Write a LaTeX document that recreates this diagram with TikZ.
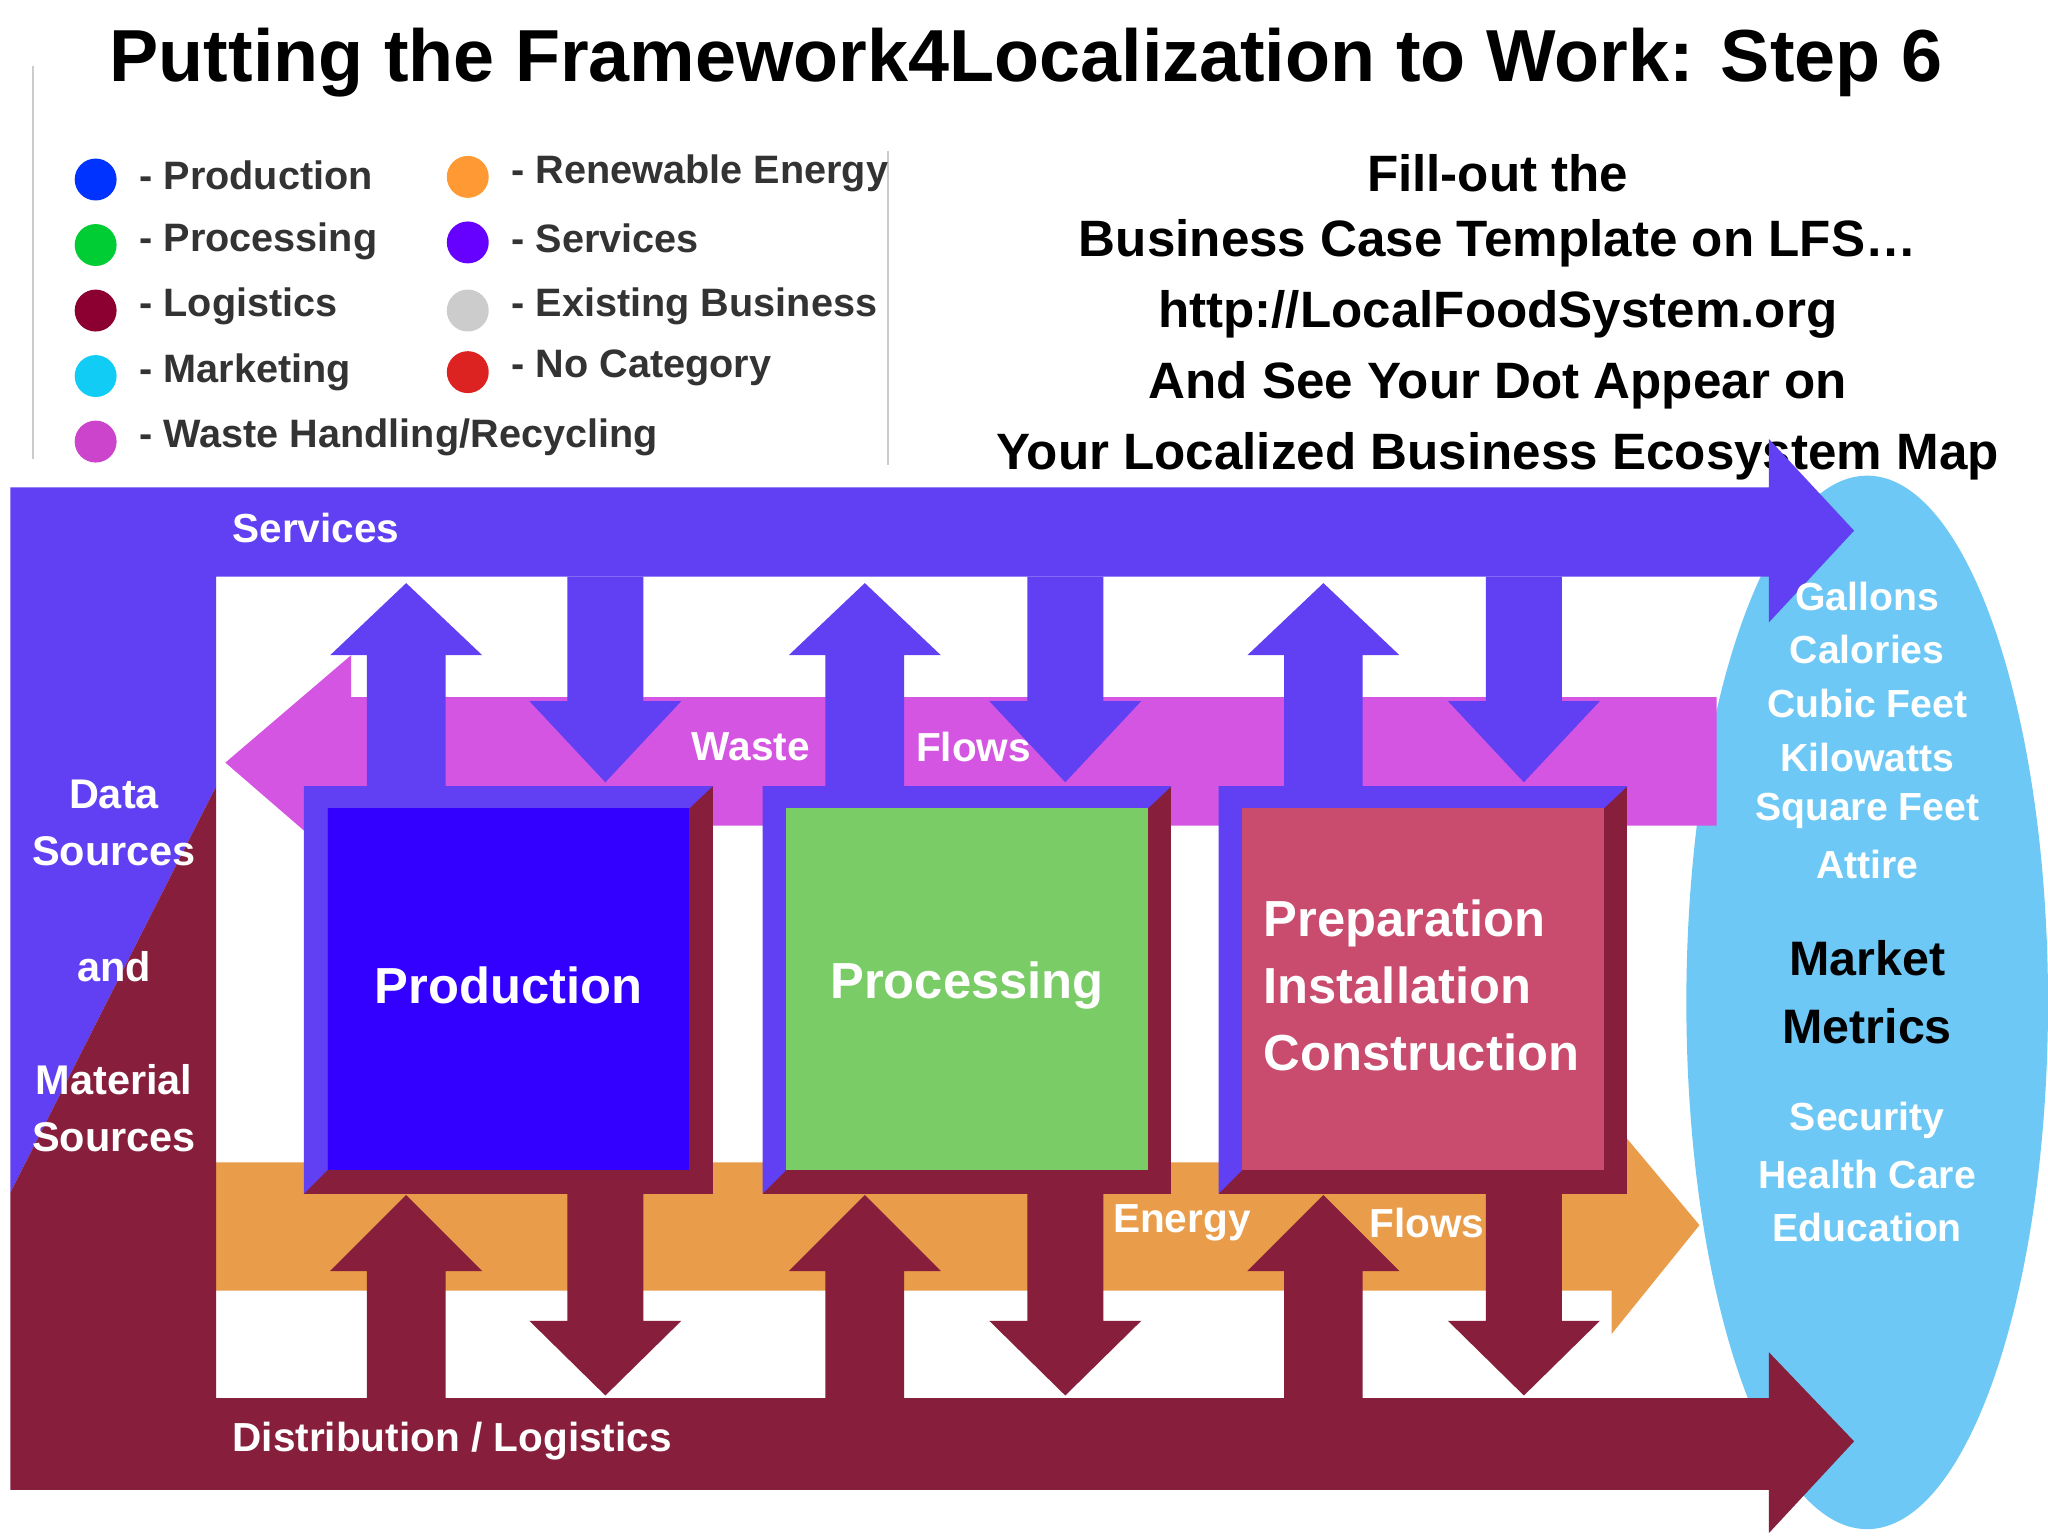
\documentclass[tikz,border=0pt]{standalone}
\usepackage{fontspec}
\setmainfont{Liberation Sans}
\begin{document}
\begin{tikzpicture}[x=0.01cm,y=-0.01cm,
  lbl/.style={font=\bfseries\fontsize{8.8}{10}\selectfont,text=white},
  leg/.style={font=\bfseries\fontsize{8.6}{10}\selectfont,text=black!80,anchor=west},
  rt/.style={font=\bfseries\fontsize{11.1}{12}\selectfont},
  boxt/.style={font=\bfseries\fontsize{11}{14.5}\selectfont,text=white,align=left},
  el/.style={font=\bfseries\fontsize{8.5}{10}\selectfont,text=white}]
\definecolor{serv}{HTML}{6040F2}
\definecolor{dist}{HTML}{861E3C}
\definecolor{waste}{HTML}{D455E2}
\definecolor{energy}{HTML}{E99C4A}
\definecolor{sky}{HTML}{6EC8F5}
\definecolor{prodc}{HTML}{3300FF}
\definecolor{procc}{HTML}{7ACC66}
\definecolor{prepc}{HTML}{C94B6D}
\useasboundingbox (0,0) rectangle (1563,1172);
\fill[white] (0,0) rectangle (1563,1172);
% title
\node[font=\bfseries\fontsize{16}{18}\selectfont] (title) at (783,48) {Putting the Framework4Localization to Work: Step 6};
% legend
\draw[gray!40] (25,50) -- (25,350);
\draw[gray!40] (678,115) -- (678,355);
\foreach \c/\y/\t/\n in {0033FF/137/Production/a,00CC33/187/Processing/b,8B0030/237/Logistics/c,11CCF5/287/Marketing/d,CC44CC/337/{Waste Handling/Recycling}/e}{
  \definecolor{tmp}{HTML}{\c}
  \fill[tmp] (73,\y) circle (16);
  \node[leg] (l\n) at (94,\y-3) {- \t};}
\foreach \c/\y/\t/\n in {FF9933/135/Renewable Energy/f,6600FF/185/Services/g,CCCCCC/237/Existing Business/h,DD2222/284/No Category/i}{
  \definecolor{tmp}{HTML}{\c}
  \fill[tmp] (357,\y) circle (16);
  \node[leg] (l\n) at (378,\y-3) {- \t};}
% right text
\node[rt] (r1) at (1143,132) {Fill-out the};
\node[rt] (r2) at (1143,186) {Business Case Template on LFS…};
\node[rt] (r3) at (1143,240) {http://LocalFoodSystem.org};
\node[rt] (r4) at (1143,294) {And See Your Dot Appear on};
\node[rt] (r5) at (1143,348) {Your Localized Business Ecosystem Map};
% ellipse
\fill[sky] (1425,765) ellipse (138 and 402);
% waste and energy
\fill[waste] (172,582) -- (268,500) -- (268,532) -- (1310,532) -- (1310,630) -- (268,630) -- (268,665) -- cycle;
\fill[energy] (165,887) -- (1230,887) -- (1230,855) -- (1297,935) -- (1230,1018) -- (1230,985) -- (165,985) -- cycle;
% services / distribution
\fill[serv] (8,372) -- (1350,372) -- (1350,335) -- (1415,405) -- (1350,475) -- (1350,440) -- (165,440) -- (165,600) -- (8,910) -- cycle;
\fill[dist] (165,600) -- (165,1067) -- (1350,1067) -- (1350,1032) -- (1415,1100) -- (1350,1170) -- (1350,1137) -- (8,1137) -- (8,910) -- cycle;
% vertical arrows
\foreach \x in {310,660,1010}{
  \fill[serv] (\x-30,600) -- (\x-30,500) -- (\x-58,500) -- (\x,445) -- (\x+58,500) -- (\x+30,500) -- (\x+30,600) -- cycle;
  \fill[dist] (\x-30,1067) -- (\x-30,970) -- (\x-58,970) -- (\x,912) -- (\x+58,970) -- (\x+30,970) -- (\x+30,1067) -- cycle;}
\foreach \x in {462,813,1163}{
  \fill[serv] (\x-29,440) -- (\x-29,535) -- (\x-58,535) -- (\x,597) -- (\x+58,535) -- (\x+29,535) -- (\x+29,440) -- cycle;
  \fill[dist] (\x-29,905) -- (\x-29,1008) -- (\x-58,1008) -- (\x,1065) -- (\x+58,1008) -- (\x+29,1008) -- (\x+29,905) -- cycle;}
% boxes
\foreach \x/\c/\n in {232/prodc/p,582/procc/q,930/prepc/s}{
  \fill[dist] (\x,600) rectangle (\x+312,911);
  \fill[serv] (\x,600) -- (\x+312,600) -- (\x+294,617) -- (\x+18,617) -- (\x+18,893) -- (\x,911) -- cycle;
  \fill[\c] (\x+18,617) rectangle (\x+294,893);}
\node[boxt] (bp) at (388,752) {Production};
\node[boxt] (bq) at (738,752) {Processing};
\node[boxt,anchor=west] (bs) at (952,752) {Preparation\\Installation\\Construction};
% labels
\node[lbl,anchor=west] (sv) at (165,403) {Services};
\node[lbl,anchor=west] (ds) at (165,1100) {Distribution / Logistics};
\node[lbl] (w1) at (573,570) {Waste};
\node[lbl] (w2) at (743,570) {Flows};
\node[lbl] (e1) at (902,933) {Energy};
\node[lbl] (e2) at (1089,933) {Flows};
\node[lbl,align=center,font=\bfseries\fontsize{9}{12.4}\selectfont] (d1) at (87,628) {Data\\Sources};
\node[lbl,font=\bfseries\fontsize{9}{12}\selectfont] (d2) at (87,738) {and};
\node[lbl,align=center,font=\bfseries\fontsize{9}{12.4}\selectfont] (d3) at (87,846) {Material\\Sources};
% ellipse text
\foreach \t/\y/\n in {Gallons/455/a,Calories/496/b,Cubic Feet/537/c,Kilowatts/578/d,Square Feet/619/e,Attire/660/f,Security/855/g,Health Care/896/h,Education/937/i}{
  \node[el] (m\n) at (1425,\y) {\t};}
\node[font=\bfseries\fontsize{10.5}{14.8}\selectfont,align=center] (mm) at (1425,757) {Market\\Metrics};
\end{tikzpicture}
\end{document}
